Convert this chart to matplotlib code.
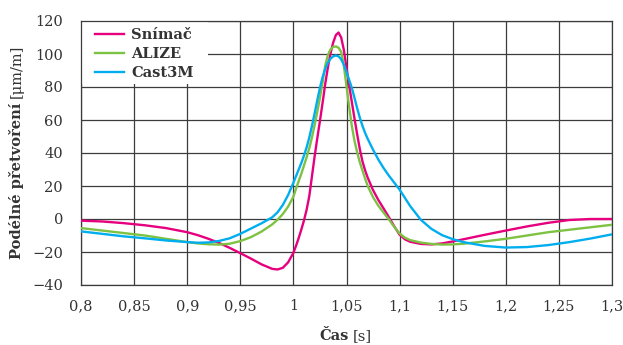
import numpy as np
import matplotlib
matplotlib.use('Agg')
import matplotlib.pyplot as plt
from matplotlib.patches import Rectangle

# time axis [s]
cas = [0.80, 0.82, 0.84, 0.86, 0.88, 0.90, 0.91, 0.92, 0.93, 0.94, 0.95, 0.96, 0.97, 0.98,
       0.985, 0.99, 0.995, 1.00,
       1.0025, 1.005, 1.0075, 1.01, 1.0125, 1.015, 1.0175, 1.02, 1.0225, 1.025, 1.0275,
       1.03, 1.0325, 1.035, 1.0375, 1.04, 1.0425, 1.045, 1.0475, 1.05, 1.0525, 1.055,
       1.0575, 1.06, 1.0625, 1.065, 1.0675,
       1.07, 1.075, 1.08, 1.085, 1.09, 1.095, 1.10, 1.105, 1.11,
       1.12, 1.13, 1.14, 1.15, 1.16,
       1.18, 1.20, 1.22, 1.24, 1.26, 1.28, 1.30]

# measured strain (sensor)
snimac = [-1, -1.5, -2.5, -3.8, -5.5, -8, -9.8, -12, -14.5, -17.5, -20.7, -24, -27.5, -30.2,
          -30.6, -29.6, -26.3, -20.5,
          -16.2, -11.5, -6.3, -0.8, 5.8, 14, 26, 38, 49, 59.5, 70.5,
          82, 92, 100.5, 107, 111.5, 113, 110, 102.5, 91.5, 81, 71,
          61, 51.5, 42.5, 35, 29.5,
          25, 17.5, 11.5, 6.3, 1, -4.5, -9.5, -12.3, -13.8,
          -15.1, -15.4, -14.8, -13.6, -12.3,
          -9.6, -7, -4.5, -2.3, -0.6, 0, 0]

# ALIZE model
alize = [-5.5, -7, -8.5, -10, -12, -14, -14.8, -15.3, -15.5, -15, -13.4, -11, -7.6, -3.3,
         -0.5, 3, 7.5, 13.5,
         18.5, 23, 27.5, 32.5, 37.5, 43, 49.5, 57, 65, 73.5, 83,
         93, 99.5, 102.8, 104.3, 104.6, 103.8, 101.3, 93, 80.5, 68, 56.5,
         47.5, 40.5, 34.5, 29.5, 24.5,
         20, 13.2, 8, 3.8, -0.3, -4.8, -8.8, -11.3, -12.8,
         -14.3, -15.1, -15.5, -15.4, -15,
         -13.6, -12, -10, -8, -6.5, -5, -3.5]

# Cast3M model
cast3m = [-7.5, -9, -10.5, -11.7, -13, -14, -14.4, -14.2, -13.3, -11.7, -9, -5.8, -2.6, 1,
          4, 8.5, 14.5, 22,
          26, 30, 34, 38.5, 43.5, 49.5, 56.5, 64, 72, 79.5, 86,
          91, 94.8, 97.2, 98.6, 99.1, 98.6, 96.8, 93.5, 89, 84.3, 79.5,
          73.5, 67.2, 61.5, 56.5, 52.2,
          48.5, 42, 36, 30.8, 26.2, 22, 17.8, 12.8, 7.8,
          -0.5, -6, -9.8, -12.2, -14,
          -16.3, -17.3, -17, -15.8, -14, -11.8, -9.3]

x_ticks = [0.8, 0.85, 0.9, 0.95, 1.0, 1.05, 1.1, 1.15, 1.2, 1.25, 1.3]
x_labels = ['0,8', '0,85', '0,9', '0,95', '1', '1,05', '1,1', '1,15', '1,2', '1,25', '1,3']
y_ticks = [-40, -20, 0, 20, 40, 60, 80, 100, 120]
y_labels = ['\u221240', '\u221220', '0', '20', '40', '60', '80', '100', '120']

W, H = 623, 345
fig = plt.figure(figsize=(W / 100, H / 100), dpi=100)
ax = fig.add_axes([81 / W, 1 - 285 / H, (612 - 81) / W, (285 - 21) / H])

ax.plot(cas, snimac, color='#E6007E', lw=1.7, label='Snímač', zorder=3)
ax.plot(cas, alize, color='#7DC242', lw=1.7, label='ALIZE', zorder=3)
ax.plot(cas, cast3m, color='#00AEEF', lw=1.7, label='Cast3M', zorder=3)

ax.set_xlim(0.8, 1.3)
ax.set_ylim(-40, 120)
ax.set_xticks(x_ticks)
ax.set_xticklabels(x_labels)
ax.set_yticks(y_ticks)
ax.set_yticklabels(y_labels)
ax.tick_params(length=0, labelsize=10.5, colors='#333333')
ax.tick_params(axis='y', pad=13)
ax.tick_params(axis='x', pad=10)
for lab in ax.get_xticklabels() + ax.get_yticklabels():
    lab.set_family('DejaVu Serif')
ax.grid(True, color='#3c3c3c', lw=0.9)
ax.set_axisbelow(True)
for s in ax.spines.values():
    s.set_color('#3c3c3c')
    s.set_linewidth(0.9)

# white box behind the legend (covers the grid)
ax.add_patch(Rectangle((0, (285 - 84) / 264), (208 - 81) / 531, 1 - (285 - 84) / 264,
                       transform=ax.transAxes, facecolor='white', edgecolor='none',
                       zorder=1.5, clip_on=False))
leg = ax.legend(loc='upper left', bbox_to_anchor=((95 - 81) / 531, (285 - 28) / 264),
                frameon=False, borderaxespad=0, borderpad=0,
                handlelength=2.0, handletextpad=0.48, labelspacing=0.35,
                prop={'family': 'DejaVu Serif', 'weight': 'bold', 'size': 10.5})
leg.set_zorder(4)
for t in leg.get_texts():
    t.set_color('#333333')

# axis labels with a bold part and a regular unit part
fig.canvas.draw()
r = fig.canvas.get_renderer()
lab_kw = dict(family='DejaVu Serif', size=10.5, color='#333333')
gap = 4

# x label
xb = fig.text(0, 0, 'Čas', weight='bold', va='baseline', **lab_kw)
xr = fig.text(0, 0, '[s]', va='baseline', **lab_kw)
w1 = xb.get_window_extent(r).width
w2 = xr.get_window_extent(r).width
x0 = 346 - (w1 + gap + w2) / 2
xb.set_position((x0 / W, 1 - 340 / H))
xr.set_position(((x0 + w1 + gap) / W, 1 - 340 / H))

# y label (rotated)
yb = fig.text(0, 0, 'Podélné přetvoření', weight='bold', rotation=90,
              ha='center', va='bottom', **lab_kw)
yr = fig.text(0, 0, '[μm/m]', rotation=90, ha='center', va='bottom', **lab_kw)
h1 = yb.get_window_extent(r).height
h2 = yr.get_window_extent(r).height
y0 = (H - 152) - (h1 + gap + h2) / 2
yb.set_position((17 / W, y0 / H))
yr.set_position((17 / W, (y0 + h1 + gap) / H))

fig.savefig('out.png', dpi=100)
